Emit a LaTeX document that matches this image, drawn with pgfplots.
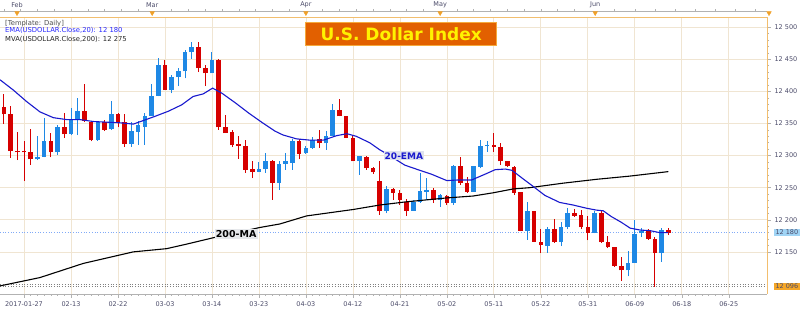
\documentclass[border=0pt]{standalone}
\usepackage{fontspec}
\setmainfont{DejaVu Sans}
\usepackage{pgfplots}
\pgfplotsset{compat=1.18}
\usepackage{pgfplotstable}

\definecolor{upc}{RGB}{30,136,229}
\definecolor{dnc}{RGB}{214,0,0}
\definecolor{emac}{RGB}{25,25,205}
\definecolor{gridc}{RGB}{240,229,210}
\definecolor{tickc}{RGB}{75,75,105}
\definecolor{titlebg}{RGB}{226,96,0}
\definecolor{titlebd}{RGB}{245,170,60}
\definecolor{axor}{RGB}{242,190,110}
\definecolor{lastbg}{RGB}{160,212,245}
\definecolor{lowbg}{RGB}{244,166,40}
\definecolor{lblbg}{RGB}{222,226,238}
\definecolor{markor}{RGB}{240,160,40}

\pgfplotsset{candle/.style={draw=none, mark=none, forget plot,
  error bars/.cd, y dir=plus, y explicit, error mark=none}}

\pgfplotstableread{
k O H L C
5 12294 12331 12293 12298
6 12298 12359 12297 12323
8 12305 12348 12301 12344
10 12334 12374 12332 12356
11 12356 12389 12332 12369
14 12324 12354 12323 12352
16 12341 12385 12340 12364
19 12318 12352 12314 12338
20 12337 12354 12317 12347
21 12345 12366 12317 12362
22 12362 12411 12361 12393
23 12393 12452 12392 12441
25 12402 12426 12397 12422
26 12422 12436 12408 12431
27 12431 12465 12420 12461
28 12461 12477 12451 12469
31 12428 12462 12428 12449
38 12275 12290 12274 12279
39 12279 12304 12273 12291
41 12258 12291 12247 12287
42 12287 12304 12278 12291
43 12289 12326 12278 12322
45 12304 12315 12303 12312
46 12312 12329 12310 12324
48 12319 12339 12309 12331
49 12331 12381 12330 12371
53 12291 12300 12270 12299
57 12213 12252 12210 12248
61 12214 12231 12214 12228
62 12228 12273 12226 12245
63 12244 12265 12231 12247
65 12231 12240 12220 12239
67 12226 12286 12223 12284
70 12244 12283 12244 12283
71 12282 12325 12280 12315
72 12315 12323 12306 12317
78 12183 12227 12169 12213
81 12159 12189 12149 12185
83 12165 12197 12159 12189
84 12188 12218 12185 12211
88 12180 12214 12179 12211
93 12121 12151 12112 12133
94 12133 12200 12133 12178
95 12180 12187 12173 12183
98 12148 12187 12135 12184
}\upT

\pgfplotstableread{
k O H L C
0 12375 12396 12349 12364
1 12364 12377 12296 12307
2 12307 12336 12293 12305
3 12307 12323 12260 12305
4 12305 12341 12286 12294
7 12323 12335 12297 12305
9 12344 12366 12327 12333
12 12369 12411 12352 12354
13 12353 12354 12322 12324
15 12352 12356 12338 12340
17 12364 12366 12344 12352
18 12352 12364 12313 12318
24 12441 12449 12402 12402
29 12469 12477 12430 12436
30 12437 12441 12408 12428
32 12449 12450 12340 12344
33 12344 12363 12335 12335
34 12336 12340 12313 12316
35 12318 12330 12295 12315
36 12315 12325 12273 12278
37 12279 12292 12265 12275
40 12291 12293 12231 12258
44 12322 12326 12294 12303
47 12326 12340 12312 12319
50 12371 12388 12361 12361
51 12362 12362 12327 12327
52 12327 12330 12291 12291
54 12297 12299 12278 12280
55 12280 12282 12272 12274
56 12260 12292 12208 12213
58 12248 12249 12231 12242
59 12242 12246 12223 12231
60 12228 12232 12206 12214
64 12247 12249 12226 12231
66 12237 12239 12223 12226
68 12284 12297 12254 12258
69 12257 12267 12242 12244
73 12316 12335 12306 12313
74 12314 12319 12286 12291
75 12291 12292 12282 12283
76 12282 12283 12239 12242
77 12244 12244 12182 12183
79 12213 12213 12165 12166
80 12166 12186 12148 12160
82 12185 12201 12164 12165
85 12211 12216 12205 12206
86 12208 12215 12185 12188
87 12188 12206 12168 12180
89 12211 12215 12164 12165
90 12166 12175 12156 12157
91 12157 12158 12127 12128
92 12128 12142 12105 12121
96 12182 12185 12169 12170
97 12170 12173 12096 12148
99 12184 12187 12176 12180
}\dnT

\begin{document}
\begin{tikzpicture}
\useasboundingbox (0,0) rectangle (810pt,310pt);
\begin{axis}[
  at={(0pt,16pt)}, anchor=south west,
  scale only axis, width=767pt, height=276.5pt,
  xmin=-0.575, xmax=113.7, ymin=12084.4, ymax=12515,
  clip mode=individual,
  axis line style={draw=none},
  scaled y ticks=false, scaled x ticks=false,
  xtick={3,10,...,108},
  xticklabels={2017-01-27,02-13,02-22,03-03,03-14,03-23,04-03,04-12,04-21,05-02,05-11,05-22,05-31,06-09,06-18,06-25},
  minor x tick num=6,
  ytick={12150,12200,...,12500},
  yticklabels={12 150,12 200,12 250,12 300,12 350,12 400,12 450,12 500},
  minor y tick num=4,
  xtick pos=bottom, ytick pos=right, yticklabel pos=right,
  tick align=outside,
  major tick length=4pt, minor tick length=2pt,
  tick style={color=gray!60, line width=0.5pt},
  grid=major, major grid style={gridc, line width=0.7pt},
  tick label style={font=\fontsize{6.5}{7}\selectfont, text=tickc},
]
% reference lines
\addplot[lastbg!80!blue, dotted, line width=0.7pt, forget plot] coordinates {(-0.575,12180) (113.7,12180)};
\addplot[gray, dotted, line width=0.7pt, forget plot] coordinates {(-0.575,12099.5) (113.7,12099.5)};
\addplot[gray, dotted, line width=0.7pt, forget plot] coordinates {(-0.575,12095.8) (113.7,12095.8)};

% wicks
\addplot[candle, error bar style={line width=0.9pt, draw=upc}]
  table[x=k, y=L, y error expr=\thisrow{H}-\thisrow{L}] {\upT};
\addplot[candle, error bar style={line width=0.9pt, draw=dnc}]
  table[x=k, y=L, y error expr=\thisrow{H}-\thisrow{L}] {\dnT};
% bodies
\addplot[candle, error bar style={line width=4.6pt, draw=upc}]
  table[x=k, y=O, y error expr=\thisrow{C}-\thisrow{O}] {\upT};
\addplot[candle, error bar style={line width=4.6pt, draw=dnc}]
  table[x=k, y=C, y error expr=\thisrow{O}-\thisrow{C}] {\dnT};

% 200 MA
\addplot[black, line width=1.1pt] coordinates {
(-0.57,12097) (5.38,12110) (11.83,12132) (19.28,12150) (24.25,12155) (27.2,12162) (31.2,12172)
(38.15,12188) (41.13,12193.5) (45.1,12206) (52.05,12216) (56.02,12223) (60,12228) (65.96,12234)
(69.92,12237) (72.9,12242) (75.88,12248) (78.36,12250) (83.32,12257) (88.3,12263) (93.26,12268) (99,12275)};
% 20 EMA
\addplot[emac, line width=1.1pt] coordinates {
(-0.57,12418) (1.41,12402) (3.4,12384) (5.38,12368) (7.37,12359) (9.35,12356) (11.34,12356)
(13.33,12353) (15.31,12352) (17.3,12351) (19.3,12349) (22.5,12361) (24.5,12369) (26.5,12379)
(28.2,12392) (29.7,12396) (31.1,12405) (32.5,12397) (34.5,12382) (36.5,12366) (38.4,12352)
(40.4,12338) (41.6,12332) (43.6,12326) (45.6,12324) (47.6,12324) (49.6,12331) (51.1,12334)
(52.5,12330) (54.5,12320) (56,12309) (57,12303) (59.75,12285) (61.7,12278) (63.7,12271)
(66,12261) (67.7,12262) (69.7,12262) (71.7,12271) (73.2,12278) (74.7,12279) (75.7,12277)
(77.2,12265) (78.6,12254) (79.85,12244) (80.6,12238) (82.8,12227) (84.8,12223) (86.8,12218)
(88.3,12215) (89.3,12214) (90.5,12205) (92,12196) (93.3,12187) (94.8,12184) (96.3,12183)
(97.7,12180) (99,12180)};

% axis lines
\draw[gray!60, line width=0.6pt] (rel axis cs:0,0) -- (rel axis cs:1,0);
\draw[axor, line width=0.8pt] (rel axis cs:0,1) -- (rel axis cs:1,1);
\draw[axor, line width=0.8pt] (rel axis cs:1,0) -- (rel axis cs:1,1);

% annotations
\node[anchor=west, font=\fontsize{6.8}{7}\selectfont, text=black!70, inner sep=0pt] at (axis cs:0.17,12505.9) {[Template: Daily]};
\node[anchor=west, font=\fontsize{6.8}{7}\selectfont, text=blue!85!white, inner sep=0pt] at (axis cs:0.17,12494.2) {EMA(USDOLLAR.Close,20): 12 180};
\node[anchor=west, font=\fontsize{6.8}{7}\selectfont, text=black!85, inner sep=0pt] at (axis cs:0.17,12481.7) {MVA(USDOLLAR.Close,200): 12 275};

\node[fill=titlebg, draw=titlebd, line width=0.8pt, text=yellow, font=\bfseries\fontsize{17}{17}\selectfont,
  minimum width=191pt, minimum height=23pt, inner sep=0pt] at (axis cs:59.2,12488.7) {U.S. Dollar Index};

\node[fill=lblbg, text=emac, font=\bfseries\fontsize{9}{9}\selectfont, inner sep=1.2pt] at (axis cs:59.6,12299.5) {20-EMA};
\node[fill=lblbg!70!gray!40, text=black, font=\bfseries\fontsize{9.5}{9.5}\selectfont, inner sep=1.2pt] at (axis cs:34.6,12177.9) {200-MA};

\node[anchor=west, fill=lastbg, text=tickc, font=\fontsize{6.5}{7}\selectfont, inner sep=1.3pt] at ([xshift=7pt]axis cs:113.7,12180) {12 180};
\node[anchor=west, fill=lowbg, text=tickc, font=\fontsize{6.5}{7}\selectfont, inner sep=1.3pt] at ([xshift=7pt]axis cs:113.7,12096) {12 096};
\end{axis}

% top band: month markers
\begin{axis}[
  at={(0pt,16pt)}, anchor=south west,
  scale only axis, width=767pt, height=276.5pt,
  xmin=-0.575, xmax=113.7, ymin=0, ymax=1,
  clip=false, axis line style={draw=none},
  scaled y ticks=false, scaled x ticks=false,
  ytick=\empty,
  xtick={1.96,22.1,45,65,88.1},
  xticklabels={Feb,Mar,Apr,May,Jun},
  xtick pos=top, xticklabel pos=top, major tick length=0pt,
  xticklabel style={font=\fontsize{6.5}{7}\selectfont, text=tickc, yshift=6pt},
]
\addplot[gray!60, line width=0.5pt] coordinates {(-0.575,1.0217) (113.7,1.0217)};
\addplot[candle, error bar style={draw=gray!60, line width=0.4pt}] coordinates {
(0,1.0217) +- (0,0.008) (2.5,1.0217) +- (0,0.008) (5,1.0217) +- (0,0.008) (7.5,1.0217) +- (0,0.008)
(10,1.0217) +- (0,0.008) (12.5,1.0217) +- (0,0.008) (15,1.0217) +- (0,0.008) (17.5,1.0217) +- (0,0.008)
(20,1.0217) +- (0,0.008) (25,1.0217) +- (0,0.008) (27.5,1.0217) +- (0,0.008) (30,1.0217) +- (0,0.008)
(32.5,1.0217) +- (0,0.008) (35,1.0217) +- (0,0.008) (37.5,1.0217) +- (0,0.008) (40,1.0217) +- (0,0.008)
(42.5,1.0217) +- (0,0.008) (47.5,1.0217) +- (0,0.008) (50,1.0217) +- (0,0.008) (52.5,1.0217) +- (0,0.008)
(55,1.0217) +- (0,0.008) (57.5,1.0217) +- (0,0.008) (60,1.0217) +- (0,0.008) (62.5,1.0217) +- (0,0.008)
(67.5,1.0217) +- (0,0.008) (70,1.0217) +- (0,0.008) (72.5,1.0217) +- (0,0.008) (75,1.0217) +- (0,0.008)
(77.5,1.0217) +- (0,0.008) (80,1.0217) +- (0,0.008) (82.5,1.0217) +- (0,0.008) (85,1.0217) +- (0,0.008)
(91,1.0217) +- (0,0.008) (94,1.0217) +- (0,0.008) (97,1.0217) +- (0,0.008) (100,1.0217) +- (0,0.008)
(103,1.0217) +- (0,0.008) (106,1.0217) +- (0,0.008) (109,1.0217) +- (0,0.008) (112,1.0217) +- (0,0.008)};
\addplot[only marks, mark=triangle*, mark size=2.6pt, mark options={rotate=180, fill=markor, draw=markor}]
  coordinates {(1.96,1.0163) (22.1,1.0163) (45,1.0163) (65,1.0163) (88.1,1.0163) (114,1.0163)};
\end{axis}
\end{tikzpicture}
\end{document}
